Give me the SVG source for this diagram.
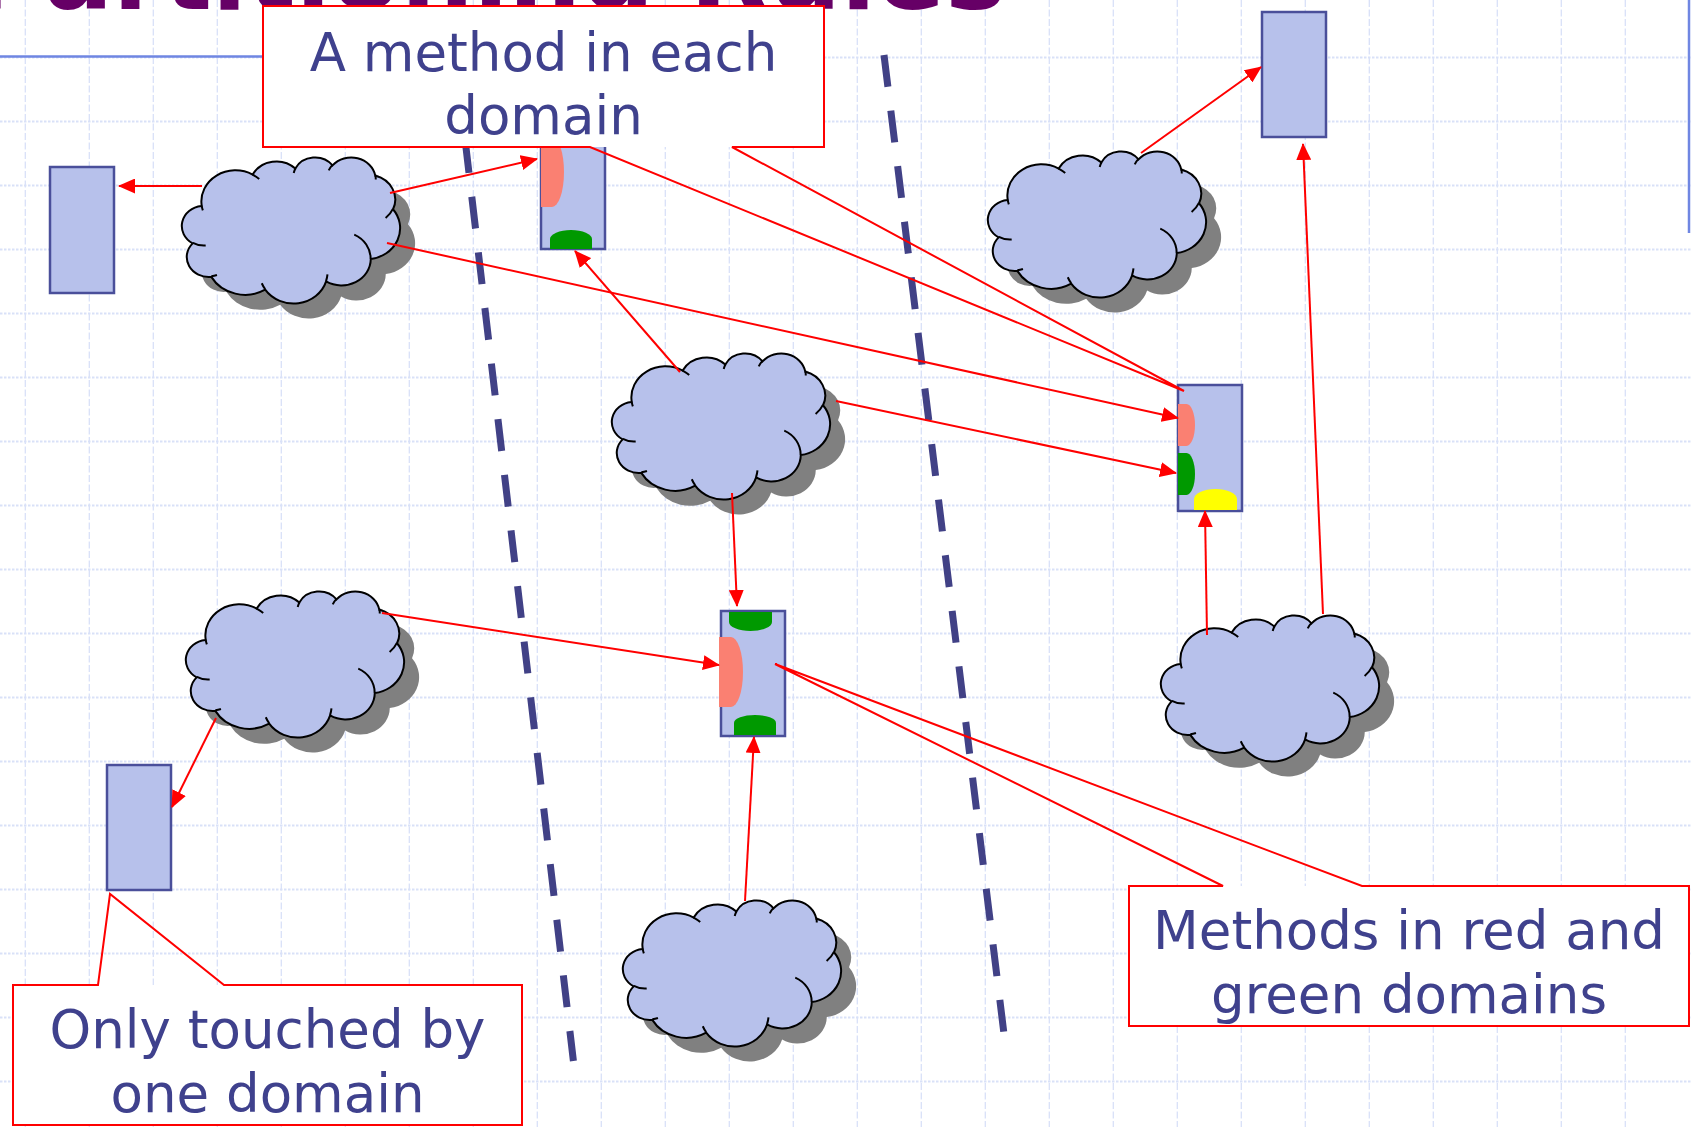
<svg xmlns="http://www.w3.org/2000/svg" width="1691" height="1127" viewBox="0 0 1691 1127">
<defs>
<style>
.gridv{fill:none;stroke:#d9e1f8;stroke-width:1.3;stroke-dasharray:7 2.5}
.gridh{fill:none;stroke:#d9e1f8;stroke-width:2.2;stroke-dasharray:2.5 1.5}
.rule{fill:none;stroke:#6f86e2;stroke-width:2.5}
.title{font-family:"DejaVu Sans",Verdana,sans-serif;font-weight:bold;font-size:102px;fill:#660066}
.divider{fill:none;stroke:#414186;stroke-width:7;stroke-dasharray:32 24}
.shadow{fill:#808080;stroke:none}
.cloud{fill:#b7c1eb;stroke:#000;stroke-width:2}
.cloudline{fill:none;stroke:#000;stroke-width:2}
.box{fill:#b7c1eb;stroke:#4a4f9a;stroke-width:2.5}
.red{fill:#fa8072}
.green{fill:#009900}
.yellow{fill:#ffff00}
.conn{fill:none;stroke:#ff0000;stroke-width:2;marker-end:url(#arrow)}
.callout-bg{fill:#ffffff}
.callout-edge{fill:none;stroke:#ff0000;stroke-width:2}
.label{font-family:"DejaVu Sans",Verdana,sans-serif;font-size:53px;fill:#3f418d;text-anchor:middle}
</style>
<marker id="arrow" markerUnits="userSpaceOnUse" markerWidth="17" markerHeight="15" refX="16" refY="7.5" orient="auto">
<path d="M0,0 L17,7.5 L0,15 Z" fill="#ff0000"/>
</marker>
<!-- only the lower strip of the slide title is on the page -->
<clipPath id="titleClip"><rect x="0" y="0" width="1691" height="14"/></clipPath>
<!-- cloud outline, 218 x 146 -->
<path id="cloudOutline" d="M19.68,48.57 A34.08,31.06 0 0 1 70.67,17.58 A26.91,24.56 0 0 1 113.33,11.59 A22.03,20.09 0 0 1 150.56,8.37 A24.51,22.29 0 0 1 193.37,18.83 A26.91,24.58 0 0 1 211.04,52.24 A34.19,31.16 0 0 1 188.77,102.07 A29.19,26.59 0 0 1 144.12,124.41 A34.07,31.14 0 0 1 83.18,132.70 A38.96,35.63 0 0 1 29.30,119.87 A22.00,20.00 0 0 1 10.67,86.35 A21.93,20.09 0 0 1 19.50,49.02 Z"/>
<!-- inner lobe strokes of the cloud -->
<path id="cloudArcs" d="M23.68,88.47 A21.93,20.09 0 0 1 10.90,85.78 M34.96,117.95 A22.00,20.00 0 0 1 29.37,119.24 M83.15,132.11 A34.07,31.14 0 0 1 79.78,126.23 M145.47,117.45 A34.07,31.14 0 0 1 144.12,123.90 M172.23,77.58 A29.19,26.59 0 0 1 188.63,101.69 M210.92,51.89 A26.91,24.58 0 0 1 203.61,60.93 M193.39,18.34 A24.51,22.29 0 0 1 193.78,22.61 M146.74,13.36 A24.51,22.29 0 0 1 150.48,7.90 M111.73,15.95 A22.03,20.09 0 0 1 113.54,11.26 M70.65,17.55 A34.08,31.06 0 0 1 77.21,22.11 M20.83,53.36 A34.08,31.06 0 0 1 19.68,48.57"/>
</defs>

<rect x="0" y="0" width="1691" height="1127" fill="#ffffff"/>

<!-- background grid -->
<g id="grid">
<path class="gridv" d="M25.3,0V1127M89.3,0V1127M153.3,0V1127M217.3,0V1127M281.3,0V1127M345.3,0V1127M409.3,0V1127M473.3,0V1127M537.3,0V1127M601.3,0V1127M665.3,0V1127M729.3,0V1127M793.3,0V1127M857.3,0V1127M921.3,0V1127M985.3,0V1127M1049.3,0V1127M1113.3,0V1127M1177.3,0V1127M1241.3,0V1127M1305.3,0V1127M1369.3,0V1127M1433.3,0V1127M1497.3,0V1127M1561.3,0V1127M1625.3,0V1127"/>
<path class="gridh" d="M0,57.5H1691M0,121.5H1691M0,185.5H1691M0,249.5H1691M0,313.5H1691M0,377.5H1691M0,441.5H1691M0,505.5H1691M0,569.5H1691M0,633.5H1691M0,697.5H1691M0,761.5H1691M0,825.5H1691M0,889.5H1691M0,953.5H1691M0,1017.5H1691M0,1081.5H1691"/>
</g>

<!-- slide title and template rules -->
<g id="title">
<g clip-path="url(#titleClip)">
<text class="title" x="-28" y="9" textLength="1034" lengthAdjust="spacingAndGlyphs">Partitioning Rules</text>
</g>
<path class="rule" d="M0,56.5H300"/>
<path class="rule" d="M1689,0V233" stroke-width="3"/>
</g>

<!-- domain boundaries -->
<g id="dividers">
<path class="divider" d="M458.7,85.5 L573.4,1061"/>
<path class="divider" d="M884,55 L1004,1034"/>
</g>

<!-- clouds -->
<g id="cloud-1" transform="translate(182,157)">
<use href="#cloudOutline" class="shadow" x="15" y="15"/>
<use href="#cloudOutline" class="cloud"/>
<use href="#cloudArcs" class="cloudline"/>
</g>
<g id="cloud-2" transform="translate(988,151)">
<use href="#cloudOutline" class="shadow" x="15" y="15"/>
<use href="#cloudOutline" class="cloud"/>
<use href="#cloudArcs" class="cloudline"/>
</g>
<g id="cloud-3" transform="translate(612,353)">
<use href="#cloudOutline" class="shadow" x="15" y="15"/>
<use href="#cloudOutline" class="cloud"/>
<use href="#cloudArcs" class="cloudline"/>
</g>
<g id="cloud-4" transform="translate(186,591)">
<use href="#cloudOutline" class="shadow" x="15" y="15"/>
<use href="#cloudOutline" class="cloud"/>
<use href="#cloudArcs" class="cloudline"/>
</g>
<g id="cloud-5" transform="translate(1161,615)">
<use href="#cloudOutline" class="shadow" x="15" y="15"/>
<use href="#cloudOutline" class="cloud"/>
<use href="#cloudArcs" class="cloudline"/>
</g>
<g id="cloud-6" transform="translate(623,900)">
<use href="#cloudOutline" class="shadow" x="15" y="15"/>
<use href="#cloudOutline" class="cloud"/>
<use href="#cloudArcs" class="cloudline"/>
</g>

<!-- method boxes -->
<g id="box-a"><rect class="box" x="50" y="167" width="64" height="126"/></g>
<g id="box-b">
<rect class="box" x="541" y="123" width="64" height="126"/>
<path class="red" d="M541,137 H552 A12,35 0 0 1 552,207 H541 Z"/>
<path class="green" d="M550,249 V239 A21,9 0 0 1 592,239 V249 Z"/>
</g>
<g id="box-c">
<rect class="box" x="1178" y="385" width="64" height="126"/>
<path class="red" d="M1178,404 H1186.5 A8.5,21 0 0 1 1186.5,446 H1178 Z"/>
<path class="green" d="M1178,453 H1186.5 A8.5,21 0 0 1 1186.5,495 H1178 Z"/>
<path class="yellow" d="M1194,510 V499 A21.5,10 0 0 1 1237,499 V510 Z"/>
</g>
<g id="box-d"><rect class="box" x="1262" y="12" width="64" height="125"/></g>
<g id="box-e"><rect class="box" x="107" y="765" width="64" height="125"/></g>
<g id="box-f">
<rect class="box" x="721" y="611" width="64" height="125"/>
<path class="green" d="M729,612 V622 A21.5,9 0 0 0 772,622 V612 Z"/>
<path class="red" d="M719,637 H731 A12,35 0 0 1 731,707 H719 Z"/>
<path class="green" d="M734,735 V723 A21,8 0 0 1 776,723 V735 Z"/>
</g>

<!-- calls between clouds and methods -->
<g id="connectors">
<path class="conn" d="M202,186 L119,186"/>
<path class="conn" d="M390,193 L537,159"/>
<path class="conn" d="M387,243 L1178,418"/>
<path class="conn" d="M680,372 L575,251"/>
<path class="conn" d="M836,401 L1176,473"/>
<path class="conn" d="M732,493 L737,606"/>
<path class="conn" d="M382,613 L719,665"/>
<path class="conn" d="M216,718 L172,807"/>
<path class="conn" d="M745,901 L754,737"/>
<path class="conn" d="M1207,635 L1205,511"/>
<path class="conn" d="M1323,614 L1303,144"/>
<path class="conn" d="M1141,153 L1261,67"/>
</g>

<!-- callouts -->
<g id="callout-each-domain">
<rect class="callout-bg" x="263" y="6" width="561" height="141"/>
<path class="callout-edge" d="M590,147 H263 V6 H824 V147 H732 L1184,391 Z"/>
<text class="label" x="543.5" y="71">A method in each</text>
<text class="label" x="543.5" y="133.5">domain</text>
</g>
<g id="callout-red-green">
<rect class="callout-bg" x="1129" y="886" width="560" height="140"/>
<path class="callout-edge" d="M1223,886 H1129 V1026 H1689 V886 H1362 L775,664 Z"/>
<text class="label" x="1409" y="949">Methods in red and</text>
<text class="label" x="1409" y="1013">green domains</text>
</g>
<g id="callout-one-domain">
<rect class="callout-bg" x="13" y="985" width="509" height="140"/>
<path class="callout-edge" d="M98,985 H13 V1125 H522 V985 H224 L110,894 Z"/>
<text class="label" x="267.5" y="1048">Only touched by</text>
<text class="label" x="267.5" y="1112">one domain</text>
</g>
</svg>
